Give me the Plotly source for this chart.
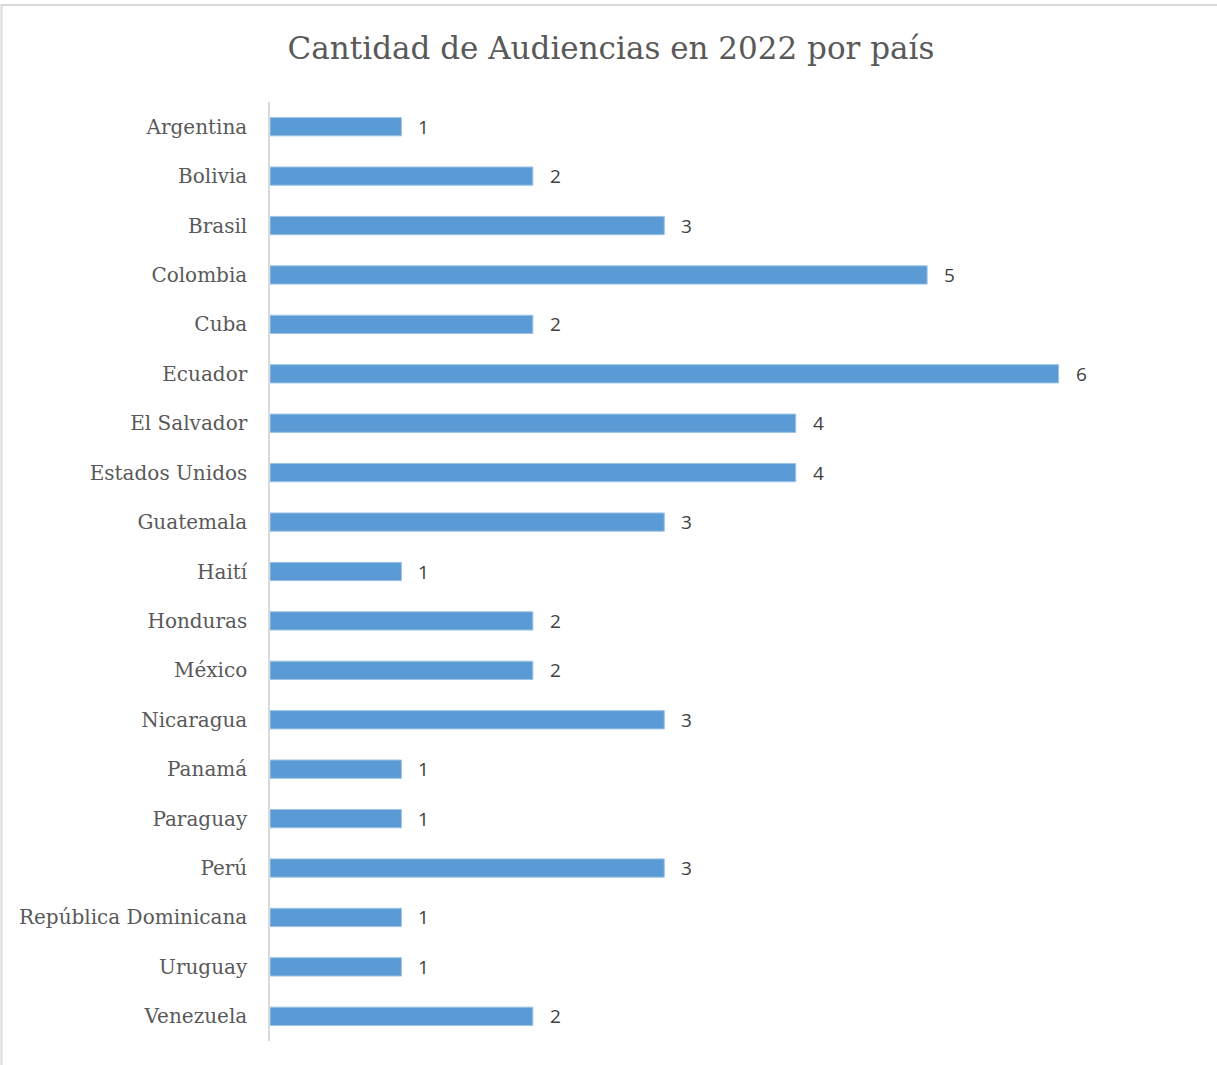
import plotly.graph_objects as go

countries = ["Argentina", "Bolivia", "Brasil", "Colombia", "Cuba", "Ecuador",
             "El Salvador", "Estados Unidos", "Guatemala", "Haití", "Honduras",
             "México", "Nicaragua", "Panamá", "Paraguay", "Perú",
             "República Dominicana", "Uruguay", "Venezuela"]
values = [1, 2, 3, 5, 2, 6, 4, 4, 3, 1, 2, 2, 3, 1, 1, 3, 1, 1, 2]
title_text = "Cantidad de Audiencias en 2022 por país"

W, H = 1217, 1065
L, R, T, B = 270, 1190, 102, 1041

fig = go.Figure()
fig.add_trace(go.Bar(
    x=values, y=countries, orientation="h",
    marker=dict(color="#5B9BD5", line=dict(color="#9DC3E6", width=1)),
    width=0.37, hoverinfo="x+y",
))

for c, v in zip(countries, values):
    fig.add_annotation(x=v, y=c, text=str(v), showarrow=False,
                       xanchor="left", xshift=15,
                       font=dict(family="Open Sans", size=19, color="#404040"))

pw, ph = R - L, B - T
fig.add_shape(type="rect", xref="paper", yref="paper",
              x0=(1.5 - L) / pw, x1=1.2, y0=-0.2, y1=(B - 5) / ph,
              line=dict(color="#D9D9D9", width=2), fillcolor="rgba(0,0,0,0)",
              layer="below")

fig.update_layout(
    width=W, height=H,
    margin=dict(l=L, r=W - R, t=T, b=H - B, pad=0),
    paper_bgcolor="white", plot_bgcolor="white",
    showlegend=False,
    title=dict(text=title_text, x=611 / W, xref="container", xanchor="center",
               y=1 - 48 / H, yref="container", yanchor="middle",
               font=dict(family="DejaVu Serif", size=31, color="#595959")),
    xaxis=dict(range=[0, 7], visible=False, showgrid=False, zeroline=False),
    yaxis=dict(autorange="reversed", showline=True, linecolor="#D9D9D9",
               linewidth=1.5, ticks="", showgrid=False, zeroline=False,
               ticklabelstandoff=17,
               tickfont=dict(family="DejaVu Serif", size=20, color="#595959")),
    bargap=0.63,
)

fig.write_html("out.html",
               config={"displayModeBar": False},
               post_script="document.body.style.margin='0';document.body.style.overflow='hidden';")
